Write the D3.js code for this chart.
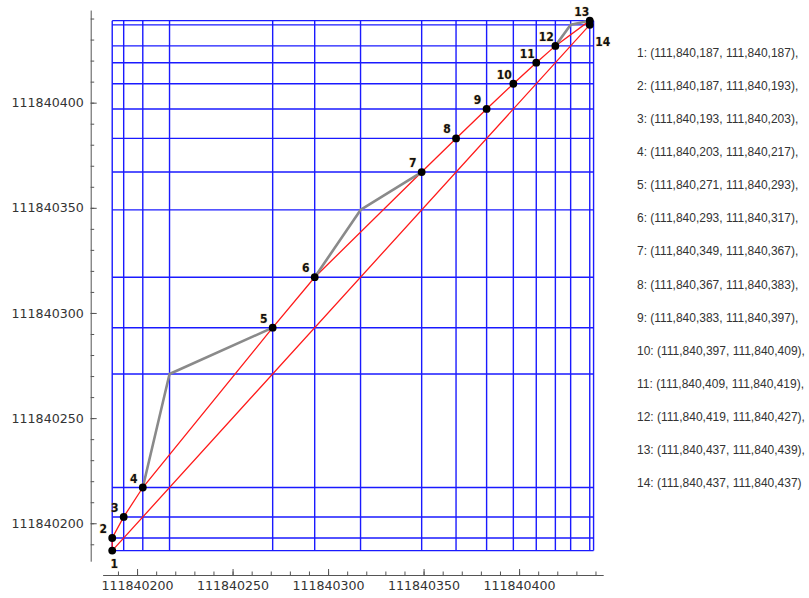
<!DOCTYPE html>
<html>
<head>
<meta charset="utf-8">
<script src="https://cdn.jsdelivr.net/npm/d3@7/dist/d3.min.js"></script>
<style>
  html, body { margin: 0; padding: 0; background: #fff; }
  svg { display: block; }
  .tick text { font-family: "DejaVu Sans", sans-serif; font-size: 12.6px; fill: #333; }
  .domain, .tick line { stroke: #555; }
</style>
</head>
<body>
<svg id="chart" width="809" height="598"></svg>
<script>
// Consecutive (start, end) pairs of the sequence
const startVals = [111840187, 111840187, 111840193, 111840203, 111840271, 111840293, 111840349,
                   111840367, 111840383, 111840397, 111840409, 111840419, 111840437, 111840437];
const endVals   = [111840187, 111840193, 111840203, 111840217, 111840293, 111840317, 111840367,
                   111840383, 111840397, 111840409, 111840419, 111840427, 111840439, 111840437];
const pointNames = ["1","2","3","4","5","6","7","8","9","10","11","12","13","14"];
// Steps (1-based) after which a gap is bridged through the corner (end_i, start_{i+1})
const bridgeAfter = [4, 6, 12];
// Axis ticks
const majorTicks = [111840200, 111840250, 111840300, 111840350, 111840400];
const minorTicks = d3.range(111840190, 111840441, 10);

const points = startVals.map((s, i) => ({ x: s, y: endVals[i], name: pointNames[i] }));
const gridVals = Array.from(new Set(startVals.concat(endVals))).sort((a, b) => a - b);

const svg = d3.select("#chart");
const x = d3.scaleLinear().domain([111840181.96, 111840444.04]).range([102.6, 603.2]);
const y = d3.scaleLinear().domain([111840181.96, 111840444.04]).range([561.2, 10.05]);

const gMin = gridVals[0], gMax = gridVals[gridVals.length - 1];

// Blue grid at every value that occurs
const grid = svg.append("g").attr("stroke", "#1a1aff").attr("stroke-width", 1.4).attr("fill", "none");
grid.selectAll("line.v").data(gridVals).join("line").attr("class", "v")
  .attr("x1", d => x(d)).attr("x2", d => x(d)).attr("y1", y(gMin)).attr("y2", y(gMax));
grid.selectAll("line.h").data(gridVals).join("line").attr("class", "h")
  .attr("y1", d => y(d)).attr("y2", d => y(d)).attr("x1", x(gMin)).attr("x2", x(gMax));

// Red closed path through all points
const line = d3.line().x(d => x(d.x)).y(d => y(d.y));
svg.append("path").datum(points.concat([points[0]]))
  .attr("d", line).attr("fill", "none").attr("stroke", "#ff1a1a").attr("stroke-width", 1.3);

// Gray bridges across the gaps
bridgeAfter.forEach(k => {
  const a = points[k - 1], b = points[k];
  svg.append("path").datum([a, { x: a.y, y: b.x }, b])
    .attr("d", line).attr("fill", "none").attr("stroke", "#8a8a8a")
    .attr("stroke-width", 2.6).attr("stroke-linejoin", "round");
});

// Points
svg.append("g").selectAll("circle").data(points).join("circle")
  .attr("cx", d => x(d.x)).attr("cy", d => y(d.y)).attr("r", 3.9).attr("fill", "#000");

// Point labels
const labelOffset = (d, i) => {
  if (i === 0) return [2, 17];
  if (i === 13) return [13, 21];
  if (i === 12) return [-8, -5];
  return [-9, -5];
};
svg.append("g").selectAll("text").data(points).join("text")
  .attr("x", (d, i) => x(d.x) + labelOffset(d, i)[0])
  .attr("y", (d, i) => y(d.y) + labelOffset(d, i)[1])
  .attr("text-anchor", "middle")
  .attr("font-family", "'Liberation Sans Narrow', 'DejaVu Sans Condensed', sans-serif")
  .attr("font-weight", "bold").attr("font-size", 12)
  .attr("fill", "#111")
  .attr("stroke", "rgba(230,170,60,0.35)").attr("stroke-width", 1.2).attr("paint-order", "stroke")
  .text(d => d.name);

// Axes: major ticks with labels, minor ticks without, both pointing inward
const fmt = d3.format("d");
const xAxisY = 575, yAxisX = 90.7;
svg.append("g").attr("transform", `translate(0,${xAxisY})`)
  .call(d3.axisBottom(x).tickValues(minorTicks).tickSizeInner(-3.5).tickSizeOuter(0).tickFormat(""));
svg.append("g").attr("transform", `translate(0,${xAxisY})`)
  .call(d3.axisBottom(x).tickValues(majorTicks).tickSizeInner(-6).tickSizeOuter(0).tickPadding(6).tickFormat(fmt))
  .call(g => g.select(".domain").remove());
svg.append("g").attr("transform", `translate(${yAxisX},0)`)
  .call(d3.axisLeft(y).tickValues(minorTicks).tickSizeInner(-3.5).tickSizeOuter(0).tickFormat(""));
svg.append("g").attr("transform", `translate(${yAxisX},0)`)
  .call(d3.axisLeft(y).tickValues(majorTicks).tickSizeInner(-6).tickSizeOuter(0).tickPadding(7).tickFormat(fmt))
  .call(g => g.select(".domain").remove());

// List of pairs on the right
const comma = d3.format(",");
svg.append("g").selectAll("text").data(points).join("text")
  .attr("x", 637).attr("y", (d, i) => 56.5 + i * 33.15)
  .attr("font-family", "'Liberation Sans Narrow', 'Arial Narrow', sans-serif")
  .attr("font-size", 12).attr("fill", "#333")
  .text((d, i) => `${d.name}: (${comma(d.x)}, ${comma(d.y)})${i < points.length - 1 ? "," : ""}`);
</script>
</body>
</html>
